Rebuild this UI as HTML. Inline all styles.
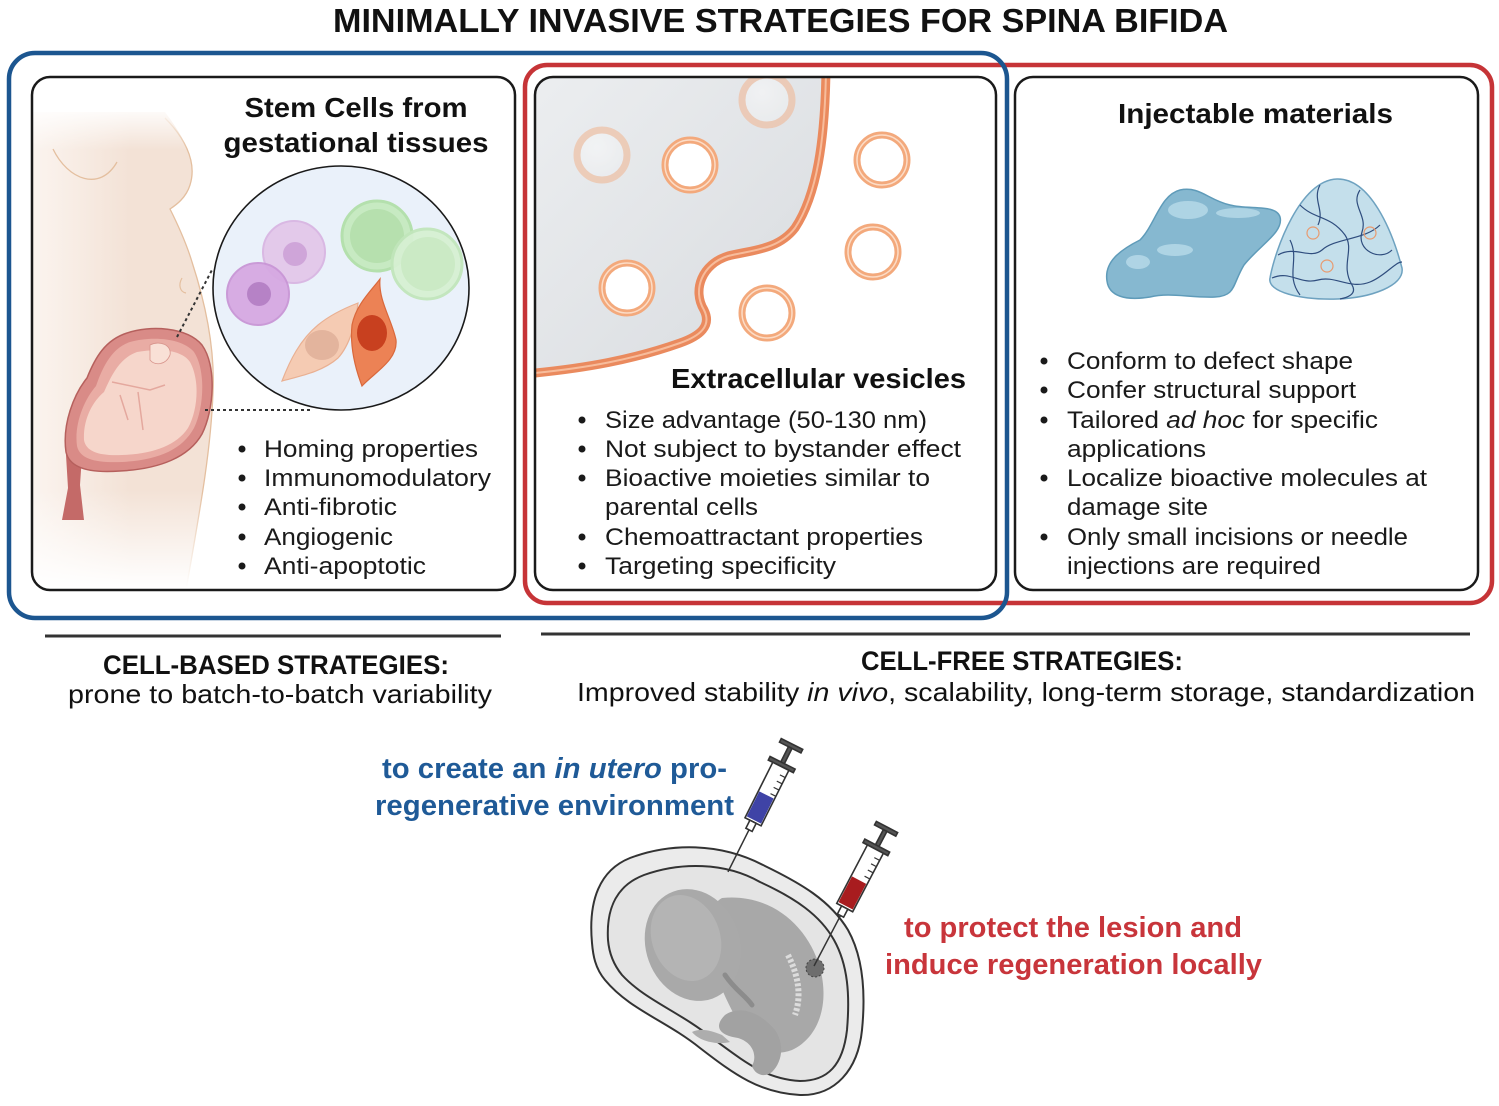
<!DOCTYPE html>
<html><head><meta charset="utf-8"><style>
html,body{margin:0;padding:0;background:#fff;}
svg{display:block;}
text{font-family:"Liberation Sans",Arial,sans-serif;}
</style></head><body>
<svg width="1499" height="1106" viewBox="0 0 1499 1106" xmlns="http://www.w3.org/2000/svg">
<defs>
  <linearGradient id="bodyH" x1="33" y1="0" x2="130" y2="0" gradientUnits="userSpaceOnUse">
    <stop offset="0" stop-color="#fbf4ef"/><stop offset="1" stop-color="#f3e2d6"/>
  </linearGradient>
  <linearGradient id="fadeB" x1="0" y1="490" x2="0" y2="588" gradientUnits="userSpaceOnUse">
    <stop offset="0" stop-color="#fff" stop-opacity="0"/><stop offset="1" stop-color="#fff" stop-opacity="1"/>
  </linearGradient>
  <linearGradient id="fadeT" x1="0" y1="105" x2="0" y2="150" gradientUnits="userSpaceOnUse">
    <stop offset="0" stop-color="#fff" stop-opacity="1"/><stop offset="1" stop-color="#fff" stop-opacity="0"/>
  </linearGradient>
  <linearGradient id="greyCell" x1="0" y1="0" x2="1" y2="1">
    <stop offset="0" stop-color="#eceef0"/><stop offset="1" stop-color="#d8dbdf"/>
  </linearGradient>
  <radialGradient id="vesIn" cx="0.4" cy="0.35" r="0.7">
    <stop offset="0" stop-color="#fff"/><stop offset="1" stop-color="#eef0f2"/>
  </radialGradient>
  <clipPath id="p1"><rect x="32" y="77" width="483" height="513" rx="18"/></clipPath>
  <clipPath id="p2"><rect x="535" y="77" width="461" height="513" rx="18"/></clipPath>
</defs>

<!-- Title -->
<text x="333" y="32" font-size="33" font-weight="bold" fill="#111" textLength="895" lengthAdjust="spacingAndGlyphs">MINIMALLY INVASIVE STRATEGIES FOR SPINA BIFIDA</text>

<!-- Red outer box (drawn first) -->
<rect x="525" y="65" width="967" height="538" rx="22" fill="none" stroke="#c63437" stroke-width="4.5"/>
<!-- Blue outer box -->
<rect x="9" y="53" width="998" height="565" rx="26" fill="none" stroke="#1c5690" stroke-width="4.5"/>

<!-- Panels backgrounds -->
<rect x="32" y="77" width="483" height="513" rx="18" fill="#fff"/>
<rect x="535" y="77" width="461" height="513" rx="18" fill="#fff"/>
<rect x="1015" y="77" width="463" height="513" rx="18" fill="#fff"/>

<!-- ============ PANEL 1 ============ -->
<g clip-path="url(#p1)">
  <path d="M33,112 L165,112 C182,135 198,160 190,185 C186,198 176,205 170,209 C178,225 186,242 192,262 C206,305 215,350 213,392 C211,450 200,510 186,590 L33,590 Z" fill="url(#bodyH)"/>
  <path d="M165,118 C182,135 198,160 190,185 C186,198 176,205 170,209 C178,225 186,242 192,262 C206,305 215,350 213,392 C211,450 200,510 186,590" fill="none" stroke="#e4bf9f" stroke-width="1.3"/>
  <path d="M53,149 C68,180 100,192 117,162" fill="none" stroke="#e4bf9f" stroke-width="1.3"/>
  <path d="M182,278 C178,285 180,292 186,293" fill="none" stroke="#e4bf9f" stroke-width="1.2"/>
  <rect x="33" y="100" width="200" height="55" fill="url(#fadeT)"/>
  <rect x="33" y="490" width="200" height="100" fill="url(#fadeB)"/>
</g>
<!-- uterus -->
<path d="M66,455 L82,455 L80,485 L84,520 L62,520 L68,488 Z" fill="#c46a68"/>
<path d="M127,333 C150,325 187,327 202,345 C217,366 214,410 202,434 C189,457 160,469 120,471 C94,473 70,470 66,452 C62,424 74,394 87,378 C95,358 105,340 127,333 Z" fill="#d98b87" stroke="#b6605d" stroke-width="1.5"/>
<path d="M130,342 C152,336 182,338 194,352 C206,370 204,408 194,428 C182,450 158,460 122,462 C98,463 80,460 77,446 C74,424 84,400 96,386 C103,366 112,348 130,342 Z" fill="#e9aca4"/>
<path d="M137,352 C160,348 182,350 190,362 C200,380 198,410 188,428 C176,446 152,454 122,455 C100,456 86,452 84,440 C83,420 92,402 104,392 C112,374 120,358 137,352 Z" fill="#f6d6cb"/>
<path d="M150,345 C160,340 172,345 170,355 C166,365 155,366 150,360 Z" fill="#f9e0d6" stroke="#d8948c" stroke-width="0.8"/>
<path d="M112,382 L150,390 L165,385 M138,392 L143,430 M120,395 L128,420" fill="none" stroke="#e4a89e" stroke-width="1.5"/>
<!-- dotted connectors -->
<line x1="177" y1="337" x2="213" y2="268" stroke="#333" stroke-width="2" stroke-dasharray="3,3"/>
<line x1="205" y1="410" x2="310" y2="410" stroke="#333" stroke-width="2" stroke-dasharray="3,3"/>
<!-- zoom circle -->
<ellipse cx="341" cy="288" rx="128" ry="122" fill="#eaf1fa" stroke="#1a1a1a" stroke-width="1.6"/>
<circle cx="294" cy="252" r="31" fill="#e3c9ea" stroke="#d9b8e3" stroke-width="2"/>
<circle cx="295" cy="254" r="12" fill="#cfa5d9"/>
<circle cx="258" cy="294" r="31" fill="#d6a9e2" stroke="#c996d6" stroke-width="2" opacity="0.95"/>
<circle cx="259" cy="294" r="12" fill="#b682c6"/>
<circle cx="377" cy="236" r="35" fill="#c7eac2" stroke="#b4e0ad" stroke-width="3"/>
<circle cx="377" cy="236" r="27" fill="#b6e0ae"/>
<circle cx="427" cy="264" r="35" fill="#d6f0d2" stroke="#c1e6bb" stroke-width="3" opacity="0.95"/>
<circle cx="428" cy="264" r="27" fill="#cbeac5"/>
<path d="M282,381 C290,360 300,340 318,325 C330,315 345,308 358,303 C356,322 350,345 338,358 C322,372 300,376 282,381 Z" fill="#f5cbb3" stroke="#e9b092" stroke-width="1.2"/>
<ellipse cx="322" cy="345" rx="17" ry="15" fill="#e3b49d"/>
<path d="M380,279 C378,300 392,320 396,340 C398,360 375,372 362,386 C354,365 350,345 352,325 C356,305 370,292 380,279 Z" fill="#ec8255" stroke="#d9683b" stroke-width="1.2"/>
<ellipse cx="372" cy="333" rx="15" ry="18" fill="#c8401f"/>
<!-- panel 1 text -->
<text x="356" y="117" font-size="28" font-weight="bold" fill="#111" text-anchor="middle" textLength="223" lengthAdjust="spacingAndGlyphs">Stem Cells from</text>
<text x="356" y="152" font-size="28" font-weight="bold" fill="#111" text-anchor="middle" textLength="265" lengthAdjust="spacingAndGlyphs">gestational tissues</text>
<g fill="#1a1a1a" font-size="24">
  <circle cx="242" cy="449" r="3.5"/><text x="264" y="457" textLength="214" lengthAdjust="spacingAndGlyphs">Homing properties</text>
  <circle cx="242" cy="478" r="3.5"/><text x="264" y="486" textLength="227" lengthAdjust="spacingAndGlyphs">Immunomodulatory</text>
  <circle cx="242" cy="507" r="3.5"/><text x="264" y="515" textLength="133" lengthAdjust="spacingAndGlyphs">Anti-fibrotic</text>
  <circle cx="242" cy="537" r="3.5"/><text x="264" y="545" textLength="129" lengthAdjust="spacingAndGlyphs">Angiogenic</text>
  <circle cx="242" cy="566" r="3.5"/><text x="264" y="574" textLength="162" lengthAdjust="spacingAndGlyphs">Anti-apoptotic</text>
</g>

<!-- ============ PANEL 2 ============ -->
<g clip-path="url(#p2)">
  <path d="M535,70 L826,70 C825,140 817,195 795,228 C778,250 752,250 728,256 C702,264 692,290 704,310 C712,326 700,336 680,343 C632,360 585,368 535,373 Z" fill="url(#greyCell)"/>
  <path d="M826,70 C825,140 817,195 795,228 C778,250 752,250 728,256 C702,264 692,290 704,310 C712,326 700,336 680,343 C632,360 585,368 535,373" fill="none" stroke="#ea8a5e" stroke-width="9"/>
  <path d="M826,70 C825,140 817,195 795,228 C778,250 752,250 728,256 C702,264 692,290 704,310 C712,326 700,336 680,343 C632,360 585,368 535,373" fill="none" stroke="#f7bc9b" stroke-width="2"/>
  <g fill="url(#vesIn)" stroke="#f3a97c" stroke-width="7">
    <circle cx="602" cy="155" r="25" opacity="0.45"/>
    <circle cx="767" cy="100" r="25" opacity="0.45"/>
    <circle cx="690" cy="165" r="25" fill="#fff"/>
    <circle cx="627" cy="288" r="25" fill="#fff"/>
    <circle cx="767" cy="313" r="25" fill="#fff"/>
    <circle cx="882" cy="160" r="25" fill="#fff"/>
    <circle cx="873" cy="252" r="25" fill="#fff"/>
  </g>
  <g fill="none" stroke="#fcdcc6" stroke-width="1.5">
    <circle cx="690" cy="165" r="25"/><circle cx="627" cy="288" r="25"/><circle cx="767" cy="313" r="25"/>
    <circle cx="882" cy="160" r="25"/><circle cx="873" cy="252" r="25"/>
  </g>
</g>
<text x="671" y="388" font-size="28" font-weight="bold" fill="#111" textLength="295" lengthAdjust="spacingAndGlyphs">Extracellular vesicles</text>
<g fill="#1a1a1a" font-size="24">
  <circle cx="582" cy="420" r="3.5"/><text x="605" y="428" textLength="322" lengthAdjust="spacingAndGlyphs">Size advantage (50-130 nm)</text>
  <circle cx="582" cy="449" r="3.5"/><text x="605" y="457" textLength="356" lengthAdjust="spacingAndGlyphs">Not subject to bystander effect</text>
  <circle cx="582" cy="478" r="3.5"/><text x="605" y="486" textLength="325" lengthAdjust="spacingAndGlyphs">Bioactive moieties similar to</text>
  <text x="605" y="515" textLength="153" lengthAdjust="spacingAndGlyphs">parental cells</text>
  <circle cx="582" cy="537" r="3.5"/><text x="605" y="545" textLength="318" lengthAdjust="spacingAndGlyphs">Chemoattractant properties</text>
  <circle cx="582" cy="566" r="3.5"/><text x="605" y="574" textLength="231" lengthAdjust="spacingAndGlyphs">Targeting specificity</text>
</g>

<!-- ============ PANEL 3 ============ -->
<text x="1118" y="123" font-size="28" font-weight="bold" fill="#111" textLength="275" lengthAdjust="spacingAndGlyphs">Injectable materials</text>
<path d="M1107,281 C1104,262 1120,250 1140,240 C1155,225 1160,195 1180,190 C1200,186 1208,200 1230,205 C1250,210 1276,204 1280,217 C1284,232 1260,245 1244,265 C1232,285 1236,296 1215,297 C1190,298 1170,292 1150,297 C1125,301 1109,296 1107,281 Z" fill="#86b8d0" stroke="#5f9bb9" stroke-width="1.5"/>
<g fill="#b9dbea" opacity="0.8">
  <ellipse cx="1188" cy="210" rx="20" ry="9"/>
  <ellipse cx="1138" cy="262" rx="12" ry="7"/>
  <ellipse cx="1238" cy="213" rx="22" ry="5"/>
  <ellipse cx="1175" cy="250" rx="18" ry="6"/>
</g>
<path d="M1337,179 C1370,178 1392,230 1402,268 C1405,286 1370,298 1337,299 C1300,300 1267,292 1270,278 C1275,250 1300,180 1337,179 Z" fill="#c4dfeb" stroke="#6ea2c0" stroke-width="1.5"/>
<g fill="none" stroke="#2f4d7e" stroke-width="1.2">
  <path d="M1300,205 C1315,220 1330,215 1345,235 C1355,250 1340,265 1352,285 C1358,295 1345,298 1340,299"/>
  <path d="M1278,255 C1295,245 1310,260 1322,250 C1335,238 1365,240 1380,225"/>
  <path d="M1272,278 C1290,270 1300,285 1318,280 C1335,275 1350,290 1370,282 C1385,276 1395,262 1402,262"/>
  <path d="M1360,190 C1350,205 1368,215 1362,232 C1356,250 1380,262 1392,250"/>
  <path d="M1320,185 C1312,200 1325,210 1318,225"/>
  <path d="M1290,240 C1300,260 1285,275 1300,295"/>
</g>
<g fill="none" stroke="#e89a6f" stroke-width="1.2">
  <circle cx="1313" cy="233" r="6"/><circle cx="1370" cy="233" r="6"/><circle cx="1327" cy="266" r="6"/>
</g>
<g fill="#1a1a1a" font-size="24">
  <circle cx="1044" cy="361" r="3.5"/><text x="1067" y="369" textLength="286" lengthAdjust="spacingAndGlyphs">Conform to defect shape</text>
  <circle cx="1044" cy="390" r="3.5"/><text x="1067" y="398" textLength="289" lengthAdjust="spacingAndGlyphs">Confer structural support</text>
  <circle cx="1044" cy="420" r="3.5"/><text x="1067" y="428" textLength="311" lengthAdjust="spacingAndGlyphs">Tailored <tspan font-style="italic">ad hoc</tspan> for specific</text>
  <text x="1067" y="457" textLength="139" lengthAdjust="spacingAndGlyphs">applications</text>
  <circle cx="1044" cy="478" r="3.5"/><text x="1067" y="486" textLength="360" lengthAdjust="spacingAndGlyphs">Localize bioactive molecules at</text>
  <text x="1067" y="515" textLength="141" lengthAdjust="spacingAndGlyphs">damage site</text>
  <circle cx="1044" cy="537" r="3.5"/><text x="1067" y="545" textLength="341" lengthAdjust="spacingAndGlyphs">Only small incisions or needle</text>
  <text x="1067" y="574" textLength="254" lengthAdjust="spacingAndGlyphs">injections are required</text>
</g>

<!-- Panel borders on top -->
<rect x="32" y="77" width="483" height="513" rx="18" fill="none" stroke="#1a1a1a" stroke-width="2.5"/>
<rect x="535" y="77" width="461" height="513" rx="18" fill="none" stroke="#1a1a1a" stroke-width="2.5"/>
<rect x="1015" y="77" width="463" height="513" rx="18" fill="none" stroke="#1a1a1a" stroke-width="2.5"/>

<!-- ============ STRATEGY LABELS ============ -->
<line x1="45" y1="636" x2="501" y2="636" stroke="#333" stroke-width="3"/>
<line x1="541" y1="634" x2="1470" y2="634" stroke="#333" stroke-width="3"/>
<text x="103" y="674" font-size="27" font-weight="bold" fill="#111" textLength="346" lengthAdjust="spacingAndGlyphs">CELL-BASED STRATEGIES:</text>
<text x="68" y="703" font-size="26" fill="#111" textLength="424" lengthAdjust="spacingAndGlyphs">prone to batch-to-batch variability</text>
<text x="861" y="670" font-size="27" font-weight="bold" fill="#111" textLength="322" lengthAdjust="spacingAndGlyphs">CELL-FREE STRATEGIES:</text>
<text x="577" y="701" font-size="26" fill="#111" textLength="898" lengthAdjust="spacingAndGlyphs">Improved stability <tspan font-style="italic">in vivo</tspan>, scalability, long-term storage, standardization</text>

<!-- ============ BOTTOM ============ -->
<text x="382" y="778" font-size="29" font-weight="bold" fill="#1f5a97" textLength="345" lengthAdjust="spacingAndGlyphs">to create an <tspan font-style="italic">in utero</tspan> pro-</text>
<text x="375" y="815" font-size="29" font-weight="bold" fill="#1f5a97" textLength="359" lengthAdjust="spacingAndGlyphs">regenerative environment</text>
<text x="904" y="937" font-size="29" font-weight="bold" fill="#c8353b" textLength="338" lengthAdjust="spacingAndGlyphs">to protect the lesion and</text>
<text x="885" y="974" font-size="29" font-weight="bold" fill="#c8353b" textLength="377" lengthAdjust="spacingAndGlyphs">induce regeneration locally</text>

<!-- uterus -->
<path d="M592,943 C588,900 600,870 630,858 C670,843 720,842 765,866 C800,883 830,900 848,930 C862,955 866,990 862,1030 C858,1070 835,1096 800,1095 C760,1093 735,1075 700,1048 C665,1020 630,1010 605,980 C595,968 593,955 592,943 Z" fill="#ebebeb" stroke="#333" stroke-width="2"/>
<path d="M608,940 C606,906 618,885 644,875 C680,862 725,862 760,882 C795,898 820,915 834,940 C848,965 850,995 847,1030 C843,1065 828,1081 800,1081 C765,1079 745,1062 712,1038 C680,1012 645,1000 622,975 C613,964 609,952 608,940 Z" fill="#e4e4e4" stroke="#333" stroke-width="2"/>
<!-- fetus -->
<path d="M722,898 C770,893 808,925 820,968 C830,1005 818,1038 792,1050 C770,1058 752,1048 742,1030 C732,1010 720,990 712,960 C708,935 708,905 722,898 Z" fill="#a8a8a8"/>
<ellipse cx="693" cy="945" rx="47" ry="57" transform="rotate(-20 693 945)" fill="#a9a9a9"/>
<ellipse cx="686" cy="938" rx="34" ry="44" transform="rotate(-20 686 938)" fill="#b4b4b4"/>
<path d="M725,1015 C740,1005 760,1012 775,1030 C785,1045 782,1062 772,1072 C765,1078 755,1075 752,1066 C758,1055 752,1042 738,1038 C722,1036 712,1028 725,1015 Z" fill="#a2a2a2"/>
<path d="M722,1035 C710,1030 700,1028 692,1032 C700,1042 718,1045 730,1042 Z" fill="#adadad"/>
<path d="M725,975 C735,990 745,995 752,1005" fill="none" stroke="#8c8c8c" stroke-width="5" stroke-linecap="round"/>
<path d="M788,955 C798,975 802,995 795,1015" fill="none" stroke="#dcdcdc" stroke-width="6" stroke-dasharray="3,2"/>
<circle cx="815" cy="968" r="9" fill="#6e6e6e"/>
<circle cx="815" cy="968" r="9" fill="none" stroke="#444" stroke-width="1" stroke-dasharray="2,2"/>

<!-- syringe 1 (blue) -->
<g transform="translate(792,744) rotate(26.6)" stroke="#333" stroke-width="1.6">
  <rect x="-12" y="0" width="24" height="4" fill="#555"/>
  <rect x="-2" y="4" width="4" height="18" fill="#555"/>
  <rect x="-14" y="21" width="28" height="4" fill="#555"/>
  <rect x="-9" y="25" width="18" height="62" fill="#fff"/>
  <rect x="-8" y="57" width="16" height="28" fill="#3f43a6" stroke="none"/>
  <g stroke-width="1.2"><line x1="3" y1="33" x2="9" y2="33"/><line x1="3" y1="40" x2="9" y2="40"/><line x1="3" y1="47" x2="9" y2="47"/><line x1="3" y1="54" x2="9" y2="54"/></g>
  <rect x="-3.5" y="87" width="7" height="9" fill="#fff"/>
  <line x1="0" y1="96" x2="0" y2="143" stroke-width="1.5"/>
</g>
<!-- syringe 2 (red) -->
<g transform="translate(887,827) rotate(27.7)" stroke="#333" stroke-width="1.6">
  <rect x="-12" y="0" width="24" height="4" fill="#555"/>
  <rect x="-2" y="4" width="4" height="18" fill="#555"/>
  <rect x="-14" y="21" width="28" height="4" fill="#555"/>
  <rect x="-9" y="25" width="18" height="66" fill="#fff"/>
  <rect x="-8" y="60" width="16" height="29" fill="#a81c1f" stroke="none"/>
  <g stroke-width="1.2"><line x1="3" y1="33" x2="9" y2="33"/><line x1="3" y1="40" x2="9" y2="40"/><line x1="3" y1="47" x2="9" y2="47"/><line x1="3" y1="54" x2="9" y2="54"/></g>
  <rect x="-3.5" y="91" width="7" height="9" fill="#fff"/>
  <line x1="0" y1="100" x2="0" y2="157" stroke-width="1.5"/>
</g>
</svg>
</body></html>
